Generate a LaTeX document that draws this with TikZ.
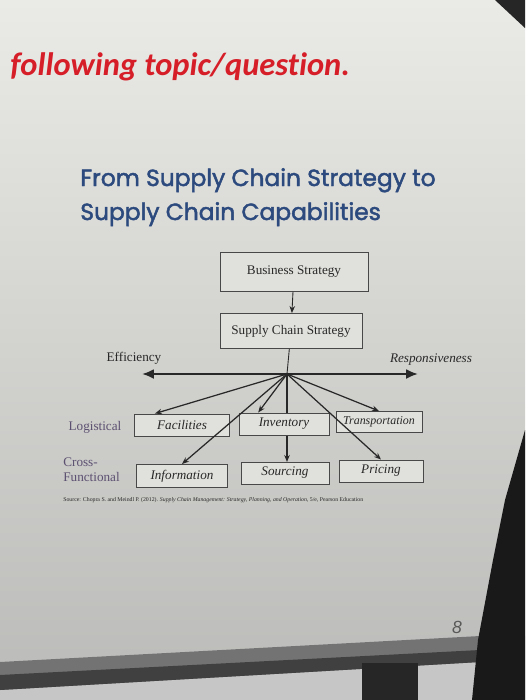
\documentclass[tikz,border=0pt]{standalone}
\usepackage{fontspec}
\usepackage{xcolor}
\usepackage{tikz}
\usetikzlibrary{arrows.meta, positioning, calc}

\setmainfont{Liberation Serif}
\newfontfamily\headfont[Ligatures=NoCommon]{Carlito}
\newfontfamily\titlefont[FakeBold=2]{Poppins}
\newfontfamily\numfont{Liberation Sans}

\definecolor{slidetop}{RGB}{234,234,230}
\definecolor{slidebot}{RGB}{186,186,184}
\definecolor{boxbg}{RGB}{224,224,220}
\definecolor{headred}{RGB}{214,30,40}
\definecolor{titleblue}{RGB}{44,74,125}
\definecolor{lblcol}{RGB}{92,80,112}
\definecolor{inkcol}{RGB}{40,40,40}

\begin{document}
\begin{tikzpicture}[
    x=0.02cm, y=-0.02cm,
    box/.style={draw=inkcol!85, line width=0.55pt, fill=boxbg, inner sep=0pt,
        minimum width=#1, font=\fontsize{7.5}{8}\selectfont, text=inkcol},
    cap/.style={box=#1, minimum height=0.44cm, font=\fontsize{7.5}{8}\selectfont\itshape},
    arr/.style={-{Stealth[length=1.4mm, width=1.1mm]}, line width=0.7pt, inkcol},
    axis/.style={{Latex[length=2.4mm, width=2mm]}-{Latex[length=2.4mm, width=2mm]}, line width=1.2pt, inkcol},
    lbl/.style={font=\fontsize{7.5}{8.5}\selectfont, text=lblcol, align=left},
    ttl/.style={anchor=base west, inner sep=0pt, text=titleblue,
        font=\titlefont\fontsize{13.3}{15}\selectfont}
]
\useasboundingbox (0,0) rectangle (525,700);

% screen
\shade[top color=slidetop, bottom color=slidebot] (0,0) rectangle (525,700);
\fill[black!85] (495,0) -- (525,0) -- (525,28) -- cycle;
\fill[gray!45] (0,662) -- (480,636) -- (525,636) -- (525,700) -- (0,700) -- cycle;
\fill[black!55] (0,662) -- (480,636) -- (480,662) -- (0,690) -- cycle;
\fill[black!75] (0,675) -- (480,650) -- (480,662) -- (0,690) -- cycle;
\fill[black!85] (362,663) rectangle (418,700);
\fill[black!90] (525,430) -- (505,500) -- (493,560) -- (478,640) -- (472,700) -- (525,700) -- cycle;

% heading
\node[anchor=base west, inner sep=0pt, text=headred,
    font=\headfont\bfseries\itshape\fontsize{18.5}{22}\selectfont] (head) at (10,75) {following topic/question.};

% title
\node[ttl] (title1) at (80,186) {From Supply Chain Strategy to};
\node[ttl] (title2) at (80,220) {Supply Chain Capabilities};

% strategy boxes
\node[box=2.96cm, minimum height=0.78cm] (bus) at (294,272) {Business Strategy};
\node[box=2.84cm, minimum height=0.7cm] (scs) at (291,331) {Supply Chain Strategy};
\draw[arr, line width=0.5pt] (bus) -- (scs);

% efficiency / responsiveness axis
\coordinate (hub) at (287,374);
\coordinate (effend) at (142,374);
\coordinate (resend) at (418,374);
\draw[axis] (effend) -- (resend);
\draw[line width=0.5pt, inkcol] (scs) -- (hub);
\node[font=\fontsize{7.5}{8}\selectfont, text=inkcol] (eff) at (134,358) {Efficiency};
\node[font=\fontsize{7.5}{8}\selectfont\itshape, text=inkcol] (res) at (431,360) {Responsiveness};

% hidden behind inventory
\draw[arr] (hub) -- (287,462) coordinate (soutop);

% logistical drivers
\node[cap=1.9cm] (fac) at (182,425) {Facilities};
\node[cap=1.8cm] (inv) at (284,424) {Inventory};
\node[cap=1.72cm, minimum height=0.42cm, font=\fontsize{6.8}{7}\selectfont\itshape] (tra) at (379,422) {Transportation};

% cross-functional drivers
\node[cap=1.82cm, minimum height=0.46cm] (info) at (182,476) {Information};
\node[cap=1.76cm] (sou) at (285,473) {Sourcing};
\node[cap=1.68cm] (pri) at (381,471) {Pricing};

\node[lbl] (logi) at (95,427) {Logistical};
\node[lbl, anchor=west, inner sep=0pt] (cross) at (63,470) {Cross-\\Functional};

% hub arrows
\draw[arr] (hub) -- (fac.157);
\draw[arr] (hub) -- (inv.156);
\draw[arr] (hub) -- (tra.north);
\draw[arr] (hub) -- (info.north);
\draw[arr] (hub) -- (pri.north);

% source
\node[anchor=west, inner sep=0pt, text=inkcol, font=\fontsize{3.3}{4}\selectfont] (src) at (63,500)
    {Source: Chopra S. and Meindl P. (2012). \textit{Supply Chain Management: Strategy, Planning, and Operation}, 5/e, Pearson Education};

% page number
\node[text=black!65, font=\numfont\itshape\fontsize{10}{12}\selectfont] (page) at (457,627) {8};

\end{tikzpicture}
\end{document}
